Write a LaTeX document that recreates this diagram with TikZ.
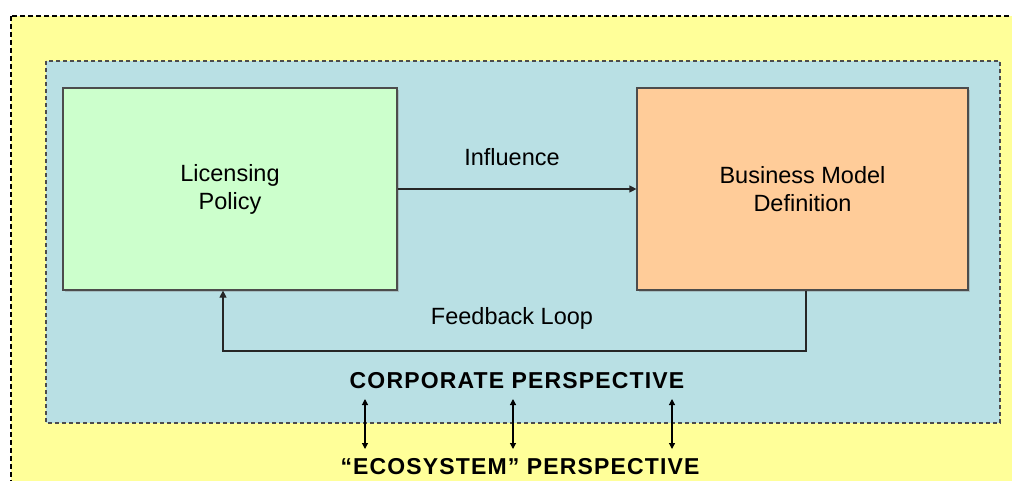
\documentclass[tikz,border=0pt]{standalone}
\usepackage{fontspec}
\setmainfont{Liberation Sans}
\usetikzlibrary{arrows.meta}
\usetikzlibrary{shadows}
\definecolor{ecoyellow}{HTML}{FFFF99}
\definecolor{corpblue}{HTML}{B9E0E4}
\definecolor{licgreen}{HTML}{CCFFCC}
\definecolor{modelorange}{HTML}{FFCC99}
\tikzset{
  every node/.style = {font = \fontsize{23.5}{28}\selectfont}
}
\tikzset{
  main box/.style = {draw=black!70, line width=1.2pt, align=center,
    inner sep=0pt, minimum height=202pt,
    drop shadow={shadow xshift=2pt, shadow yshift=-2pt, opacity=0.35}}
}
\tikzset{
  perspective/.style = {font = \fontsize{23}{26}\selectfont\bfseries\addfontfeature{LetterSpace=5}}
}
\tikzset{
    >={Triangle[length=7pt,width=7pt]}
}

\begin{document}
\begin{tikzpicture}[x=1pt, y=-1pt]
  \useasboundingbox (0,0) rectangle (1012,480);
  \clip (0,0) rectangle (1012,480);

  % ecosystem area and corporate area
  \draw[fill=ecoyellow, line width=1.2pt, dash pattern=on 5pt off 3pt]
    (11,16) rectangle (1030,500);
  \draw[fill=corpblue, draw=black!70, line width=1.2pt, dash pattern=on 4pt off 3pt]
    (46,61) rectangle (1000,423);

  \node[main box, fill=licgreen, minimum width=334pt] (licensing) at (230,189)
    {Licensing\\Policy};
  \node[main box, fill=modelorange, minimum width=331pt] (business) at (802.5,189)
    {Business Model\\Definition};

  \draw[->, black!85, line width=1.2pt] (licensing.east) -- (business.west);
  \node (influence) at (512,157) {Influence};

  \coordinate (fbright) at (806,351);
  \coordinate (fbleft) at (223,351);
  \draw[->, black!85, line width=1.2pt]
    (business.south -| fbright) -- (fbright) -- (fbleft) -- (licensing.south -| fbleft);
  \node (feedback) at (512,318) {Feedback Loop};

  \node[perspective] (corporate) at (517,381) {CORPORATE PERSPECTIVE};
  \node[perspective] (ecosystem) at (520,467) {“ECOSYSTEM” PERSPECTIVE};

  \foreach \x [count=\i] in {365,513,672} {
    \coordinate (up\i) at (\x,399);
    \coordinate (down\i) at (\x,449);
    \draw[<->, >={Triangle[length=6pt,width=6pt]}, line width=1.2pt] (up\i) -- (down\i);
  }
\end{tikzpicture}
\end{document}
